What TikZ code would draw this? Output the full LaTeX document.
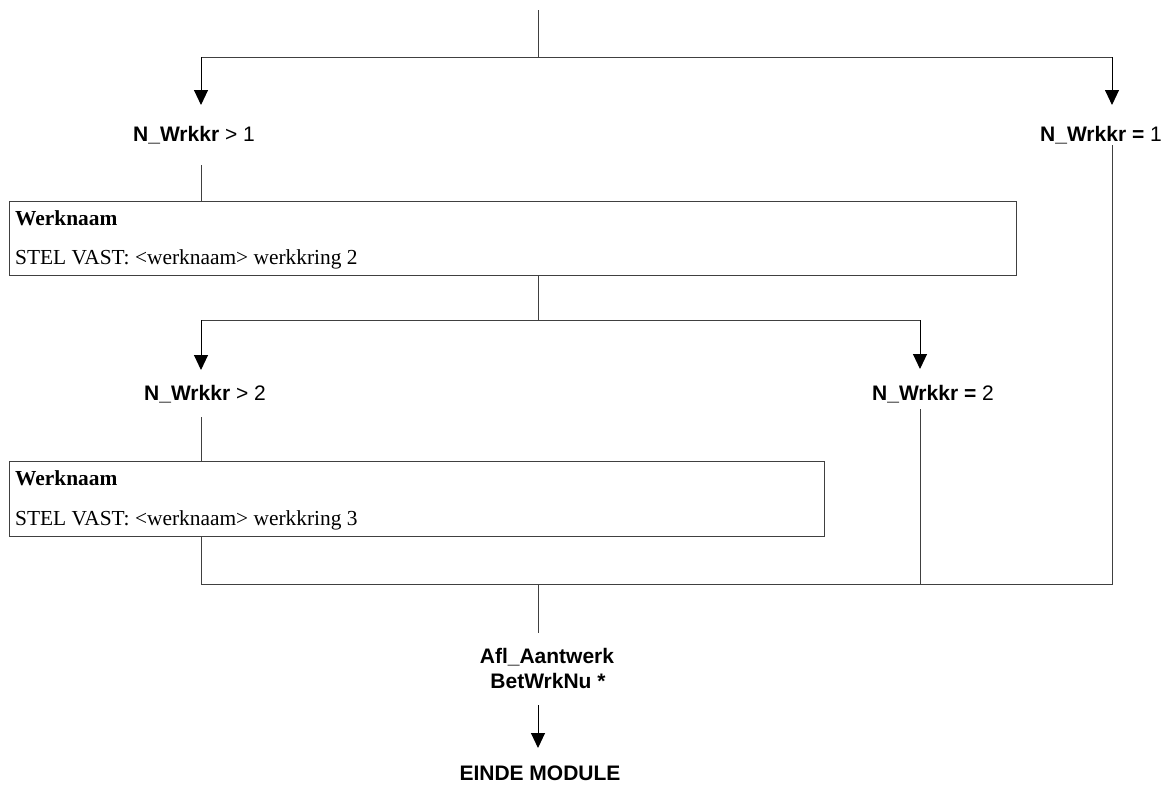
\documentclass[tikz,border=0pt]{standalone}
\usepackage{fontspec}
\setmainfont{Liberation Serif}
\newfontfamily\arialf{Liberation Sans}
\usetikzlibrary{arrows.meta}
\tikzset{
  ln/.style={draw=black!75, line width=1pt},
  arr/.style={ln, -{Triangle[width=14pt,length=15pt]}, color=black},
  lab/.style={font=\arialf\fontsize{21}{24}\selectfont, inner sep=0pt, anchor=base},
  box/.style={draw=black!75, line width=1pt, anchor=north west, inner sep=0pt},
  btxt/.style={font=\fontsize{21.4}{24}\selectfont, inner sep=0pt, anchor=base west}
}
\begin{document}
\begin{tikzpicture}[x=1pt,y=-1pt]
\useasboundingbox (0,0) rectangle (1167,787);
% coordinates
\coordinate (top) at (538,10);
\coordinate (j1) at (538,57);
\coordinate (j1l) at (201,57);
\coordinate (j1r) at (1112,57);
\coordinate (t1l) at (201,105);
\coordinate (t1r) at (1112,105);
% labels
\node[lab] (c1) at (194,141) {\textbf{N\_Wrkkr} > 1};
\node[lab] (c1r) at (1101,141) {\textbf{N\_Wrkkr =} 1};
\coordinate (s1l) at (201,165);
\coordinate (s1r) at (1112,145);
% box 1
\node[box, minimum width=1007pt, minimum height=74pt] (b1) at (9,201) {};
\node[btxt] (b1a) at (15,225) {\textbf{Werknaam}};
\node[btxt] (b1b) at (15,264) {STEL VAST: <werknaam> werkkring 2};
\coordinate (b1t) at (201,201);
\coordinate (b1s) at (538,275);
\coordinate (j2) at (538,320);
\coordinate (j2l) at (201,320);
\coordinate (j2r) at (920,320);
\coordinate (t2l) at (201,370);
\coordinate (t2r) at (920,369);
\node[lab] (c2) at (205,400) {\textbf{N\_Wrkkr} > 2};
\node[lab] (c2r) at (933,400) {\textbf{N\_Wrkkr =} 2};
\coordinate (s2l) at (201,417);
\coordinate (s2r) at (920,409);
% box 2
\node[box, minimum width=815pt, minimum height=75pt] (b2) at (9,461) {};
\node[btxt] (b2a) at (15,485) {\textbf{Werknaam}};
\node[btxt] (b2b) at (15,525) {STEL VAST: <werknaam> werkkring 3};
\coordinate (b2t) at (201,461);
\coordinate (b2s) at (201,536);
% merge
\coordinate (m1) at (201,584);
\coordinate (m2) at (920,584);
\coordinate (m3) at (1112,584);
\coordinate (m0) at (538,584);
\coordinate (e1) at (538,633);
\node[lab] (af) at (547,663) {\textbf{Afl\_Aantwerk}};
\node[lab] (bw) at (548,688) {\textbf{BetWrkNu *}};
\coordinate (a3) at (538,705);
\coordinate (t3) at (538,748);
\node[lab] (end) at (540,780) {\textbf{EINDE MODULE}};
% connectors
\draw[ln] (top) -- (j1);
\draw[ln] (j1l) -- (j1r);
\draw[arr] (j1l) -- (t1l);
\draw[arr] (j1r) -- (t1r);
\draw[ln] (s1l) -- (b1t);
\draw[ln] (b1s) -- (j2);
\draw[ln] (j2l) -- (j2r);
\draw[arr] (j2l) -- (t2l);
\draw[arr] (j2r) -- (t2r);
\draw[ln] (s2l) -- (b2t);
\draw[ln] (b2s) -- (m1) -- (m3) -- (s1r);
\draw[ln] (s2r) -- (m2);
\draw[ln] (m0) -- (e1);
\draw[arr] (a3) -- (t3);
\end{tikzpicture}
\end{document}
